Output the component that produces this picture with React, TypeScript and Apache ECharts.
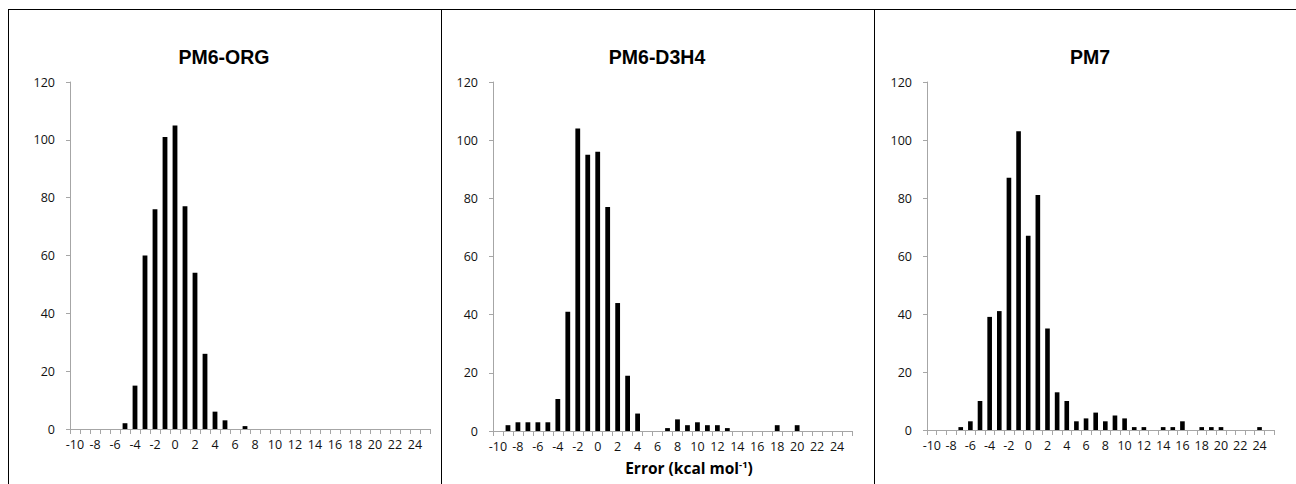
import React, { useEffect, useRef } from "react";
import * as echarts from "echarts";

const categories = [
  "-10", "-9", "-8", "-7", "-6", "-5", "-4", "-3", "-2", "-1", "0", "1",
  "2", "3", "4", "5", "6", "7", "8", "9", "10", "11", "12", "13",
  "14", "15", "16", "17", "18", "19", "20", "21", "22", "23", "24", "25",
];

const titles = ["PM6-ORG", "PM6-D3H4", "PM7"];

const pm6org = [
  0, 0, 0, 0, 0, 2, 15, 60, 76, 101, 105, 77,
  54, 26, 6, 3, 0, 1, 0, 0, 0, 0, 0, 0,
  0, 0, 0, 0, 0, 0, 0, 0, 0, 0, 0, 0,
];

const pm6d3h4 = [
  0, 2, 3, 3, 3, 3, 11, 41, 104, 95, 96, 77,
  44, 19, 6, 0, 0, 1, 4, 2, 3, 2, 2, 1,
  0, 0, 0, 0, 2, 0, 2, 0, 0, 0, 0, 0,
];

const pm7 = [
  0, 0, 0, 1, 3, 10, 39, 41, 87, 103, 67, 81,
  35, 13, 10, 3, 4, 6, 3, 5, 4, 1, 1, 0,
  1, 1, 3, 0, 1, 1, 1, 0, 0, 0, 1, 0,
];

const yTicks = [0, 20, 40, 60, 80, 100, 120];

const seriesData = [pm6org, pm6d3h4, pm7];

const grids = [
  { left: 70, top: 82, width: 360, height: 347 },
  { left: 493, top: 82, width: 359, height: 349 },
  { left: 927, top: 82, width: 347, height: 348 },
];
const titleX = [224, 657, 1090];

export default function App() {
  const ref = useRef<HTMLDivElement>(null);
  useEffect(() => {
    document.body.style.margin = "0";
    const chart = echarts.init(ref.current!, null, { renderer: "svg" });
    const axisGray = "#a6a6a6";
    const labelColor = "#111111";
    const font = "'Open Sans', 'Noto Sans', sans-serif";
    chart.setOption({
      animation: false,
      backgroundColor: "#ffffff",
      grid: grids.map((g) => ({ ...g, containLabel: false })),
      xAxis: grids.map((_, i) => ({
        type: "category",
        gridIndex: i,
        data: categories,
        boundaryGap: true,
        axisLine: { lineStyle: { color: axisGray, width: 1 } },
        axisTick: { show: true, interval: 0, length: 5, lineStyle: { color: axisGray } },
        axisLabel: {
          interval: 1,
          margin: 9,
          color: labelColor,
          fontSize: 12.5,
          fontFamily: font,
          hideOverlap: false,
        },
        splitLine: { show: false },
      })),
      yAxis: grids.map((_, i) => ({
        type: "value",
        gridIndex: i,
        min: yTicks[0],
        max: yTicks[yTicks.length - 1],
        interval: 20,
        axisLine: { show: true, lineStyle: { color: axisGray, width: 1 } },
        axisTick: { show: true, length: 4, lineStyle: { color: axisGray } },
        axisLabel: {
          margin: 15,
          color: labelColor,
          fontSize: 12.5,
          fontFamily: font,
        },
        splitLine: { show: false },
      })),
      series: seriesData.map((d, i) => ({
        type: "bar",
        name: titles[i],
        xAxisIndex: i,
        yAxisIndex: i,
        data: d,
        barWidth: "48%",
        itemStyle: { color: "#000000" },
      })),
      graphic: [
        {
          type: "line",
          shape: { x1: 8, y1: 9.5, x2: 1296, y2: 9.5 },
          style: { stroke: "#000", lineWidth: 1 },
        },
        ...[8.5, 441.5, 874.5].map((x) => ({
          type: "line",
          shape: { x1: x, y1: 9, x2: x, y2: 484 },
          style: { stroke: "#000", lineWidth: 1 },
        })),
        ...titles.map((t, i) => ({
          type: "text",
          x: titleX[i],
          y: 57,
          style: {
            text: t,
            align: "center",
            verticalAlign: "middle",
            font: "bold 19.5px 'Liberation Sans', Arial, sans-serif",
            fill: "#000",
          },
        })),
        {
          type: "text",
          x: 689,
          y: 468,
          style: {
            text: "{b|Error (kcal mol}{s|-1}{b|)}",
            align: "center",
            verticalAlign: "middle",
            rich: {
              b: {
                fontSize: 15.5,
                fontWeight: "bold",
                fontFamily: font,
                fill: "#000",
                lineHeight: 18,
              },
              s: {
                fontSize: 9.5,
                fontWeight: "bold",
                fontFamily: font,
                fill: "#000",
                verticalAlign: "top",
                lineHeight: 12,
              },
            },
          },
        },
      ],
    });
    return () => chart.dispose();
  }, []);
  return <div ref={ref} style={{ width: 1296, height: 484 }} />;
}
